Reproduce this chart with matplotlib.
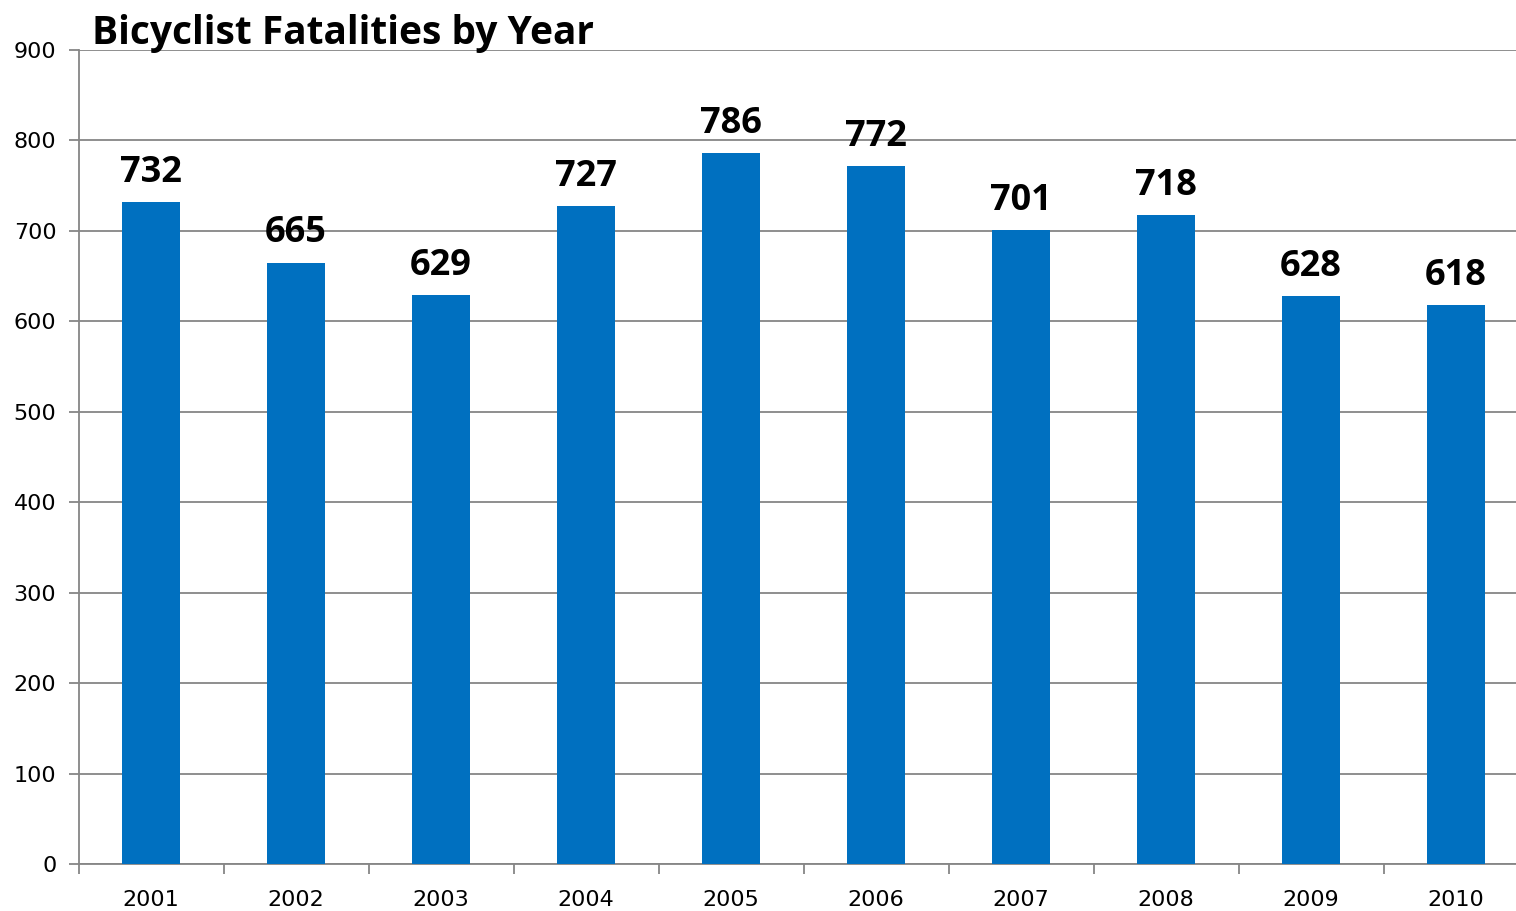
import numpy as np
import matplotlib.pyplot as plt

years = ['2001', '2002', '2003', '2004', '2005', '2006', '2007', '2008', '2009', '2010']
fatalities = [732, 665, 629, 727, 786, 772, 701, 718, 628, 618]

fig = plt.figure(figsize=(15.16, 9.11), dpi=100)
ax = fig.add_axes([0.0518, 0.0516, 0.9565, 0.8935])

x = np.arange(len(years))
bars = ax.bar(x, fatalities, width=0.405, color='#0070C0', zorder=3)

for xi, v in zip(x, fatalities):
    ax.annotate(str(v), (xi, v), xytext=(0, 8), textcoords='offset points',
                ha='center', va='bottom', fontsize=26, fontweight='bold',
                family='Open Sans')

ax.set_xlim(-0.5, len(years) - 0.5)
ax.set_ylim(0, 900)
ax.set_yticks(range(0, 901, 100))
ax.set_xticks(x)
ax.set_xticklabels(years)
ax.set_xticks(np.arange(-0.5, len(years)), minor=True)
ax.tick_params(axis='x', which='major', length=0, labelsize=16, pad=19)
ax.tick_params(axis='x', which='minor', length=7, color='#868686', width=1.3)
ax.tick_params(axis='y', length=7, color='#868686', width=1.3, labelsize=16, pad=9)
ax.grid(axis='y', color='#868686', linewidth=1.3, zorder=0)

for side in ['top', 'right']:
    ax.spines[side].set_visible(False)
for side in ['left', 'bottom']:
    ax.spines[side].set_color('#868686')
    ax.spines[side].set_linewidth(1.3)

fig.text(0.061, 0.985, 'Bicyclist Fatalities by Year', ha='left', va='top',
         fontsize=28, fontweight='bold', family='Open Sans')

fig.savefig('out.png', dpi=100)
